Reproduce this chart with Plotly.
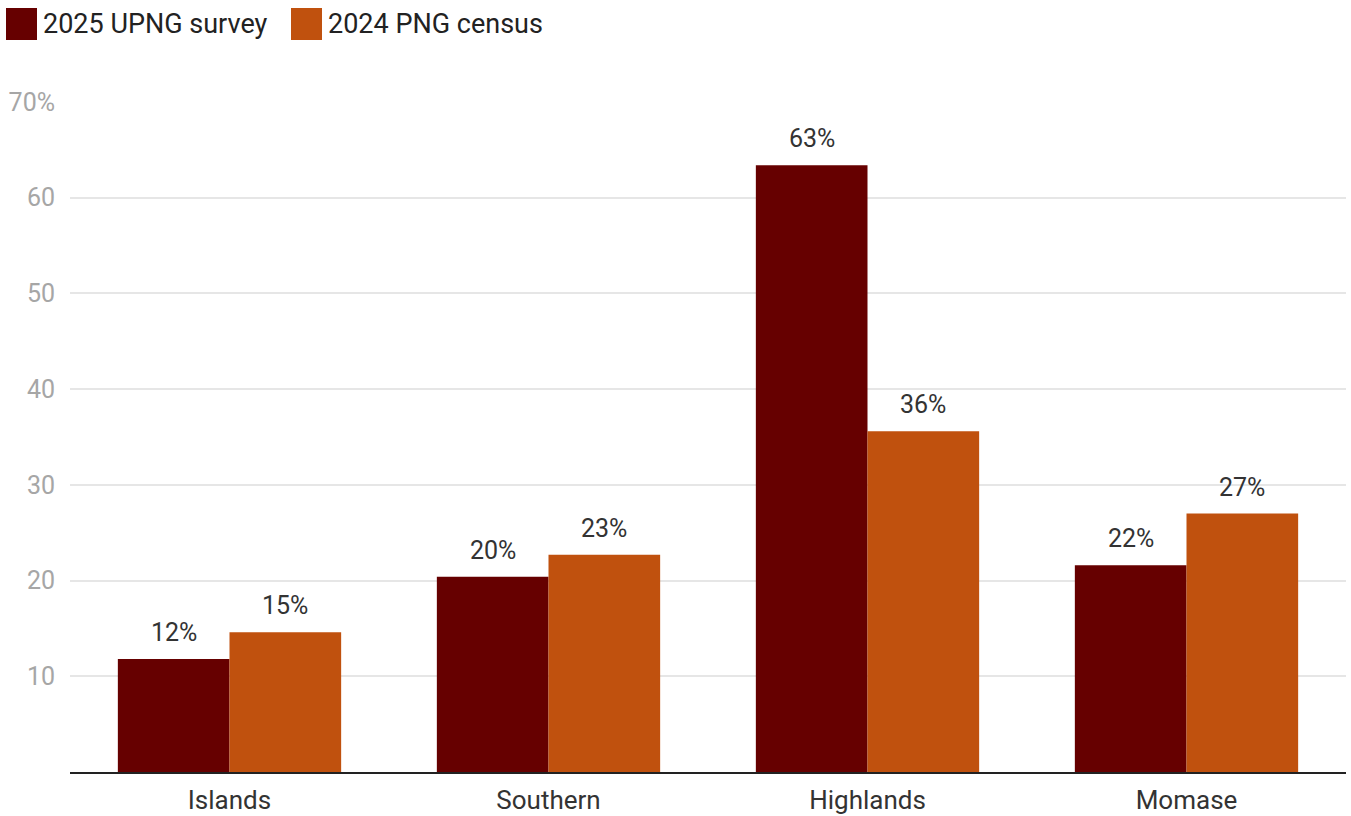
import plotly.graph_objects as go

# Regional shares (%) of respondents vs. population
regions = ["Islands", "Southern", "Highlands", "Momase"]
series_names = ["2025 UPNG survey", "2024 PNG census"]
survey_2025 = [11.8, 20.4, 63.4, 21.6]
census_2024 = [14.6, 22.7, 35.6, 27.0]
series_colors = ["#660000", "#C0510E"]

y_tick_vals = [10, 20, 30, 40, 50, 60, 70]
y_tick_text = ["10", "20", "30", "40", "50", "60", "70%"]

FONT = "Roboto, 'Noto Sans', sans-serif"

fig = go.Figure()
for name, vals, color in zip(series_names, [survey_2025, census_2024], series_colors):
    fig.add_trace(go.Bar(
        name=name, x=regions, y=vals,
        marker=dict(color=color, line=dict(width=0)),
        hoverinfo="x+y",
    ))

# Value labels above each bar
margin_l, margin_r = 70, 5
plot_w = 1351 - margin_l - margin_r
bargap = 0.30
bar_px = plot_w / len(regions) * (1 - bargap) / 2
annotations = []
for i, vals in enumerate([survey_2025, census_2024]):
    shift = (i - 0.5) * bar_px
    for r, v in zip(regions, vals):
        annotations.append(dict(
            x=r, y=v, xref="x", yref="y", text=f"{round(v)}%",
            showarrow=False, xanchor="center", yanchor="bottom",
            xshift=shift, yshift=10,
            font=dict(family=FONT, size=25, color="#333333"),
        ))

# Legend: square swatches with labels along the top-left
shapes = []
legend_x = [6, 291]
for name, color, lx in zip(series_names, series_colors, legend_x):
    shapes.append(dict(
        type="rect", xref="paper", yref="paper",
        x0=(lx - margin_l) / plot_w, x1=(lx + 31 - margin_l) / plot_w,
        y0=1 + (102 - 40) / 670, y1=1 + (102 - 8) / 670,
        fillcolor=color, line=dict(width=0),
    ))
    annotations.append(dict(
        x=(lx + 35 - margin_l) / plot_w, y=1 + (102 - 24) / 670,
        xref="paper", yref="paper", text=name, showarrow=False,
        xanchor="left", yanchor="middle",
        font=dict(family=FONT, size=27, color="#222222"),
    ))

fig.update_layout(
    width=1351, height=816,
    margin=dict(l=margin_l, r=margin_r, t=102, b=44),
    paper_bgcolor="white", plot_bgcolor="white",
    barmode="group", bargap=bargap, bargroupgap=0,
    showlegend=False,
    font=dict(family=FONT),
    annotations=annotations, shapes=shapes,
)
fig.update_xaxes(
    automargin=False,
    showline=True, linecolor="#222222", linewidth=2,
    showgrid=False, ticks="",
    ticklabelstandoff=4,
    tickfont=dict(family=FONT, size=26, color="#333333"),
)
fig.update_yaxes(
    automargin=False,
    range=[0, 70], tickvals=y_tick_vals, ticktext=y_tick_text,
    showgrid=True, gridcolor="#e6e6e6", gridwidth=1.5,
    zeroline=False, showline=False, ticks="",
    ticklabelstandoff=14,
    tickfont=dict(family=FONT, size=25, color="#a6a6a6"),
)

fig.write_html("out.html")
